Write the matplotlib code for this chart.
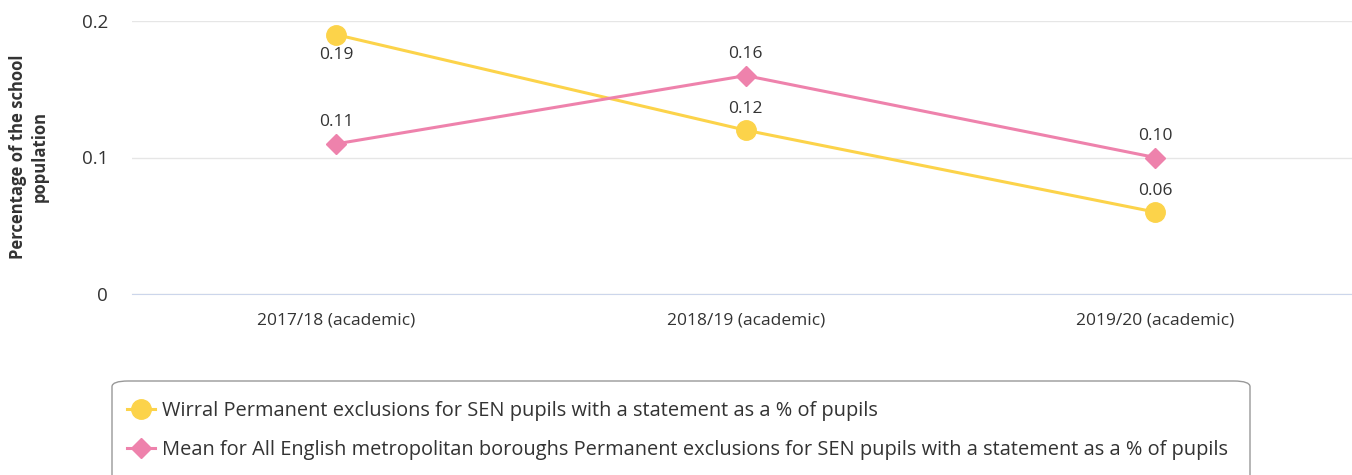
import matplotlib.pyplot as plt
from matplotlib.patches import FancyBboxPatch
from matplotlib.lines import Line2D

plt.rcParams['font.family'] = ['Open Sans', 'DejaVu Sans']

years = ["2017/18 (academic)", "2018/19 (academic)", "2019/20 (academic)"]
wirral = [0.19, 0.12, 0.06]
mean_met = [0.11, 0.16, 0.10]
wirral_name = "Wirral Permanent exclusions for SEN pupils with a statement as a % of pupils"
mean_name = "Mean for All English metropolitan boroughs Permanent exclusions for SEN pupils with a statement as a % of pupils"

yellow = "#fcd34a"
pink = "#ee82ac"
text_col = "#333333"

W, H = 1352, 475
fig = plt.figure(figsize=(W / 100, H / 100), dpi=100)
ax = fig.add_axes([131.5 / W, 1 - 294 / H, 1228.5 / W, 273 / H])

x = list(range(len(years)))
ax.plot(x, wirral, color=yellow, lw=2.2, marker='o', ms=14, zorder=3)
ax.plot(x, mean_met, color=pink, lw=2.2, marker='D', ms=10, zorder=3)

# data labels, the first Wirral one sits below its point
for i, v in enumerate(wirral):
    dy = -14.5 if i == 0 else 15.5
    ax.annotate(f"{v:.2f}", (i, v), xytext=(0, dy), textcoords='offset points',
                ha='center', va='center', fontsize=12.5, color=text_col)
for i, v in enumerate(mean_met):
    ax.annotate(f"{v:.2f}", (i, v), xytext=(0, 15.5), textcoords='offset points',
                ha='center', va='center', fontsize=12.5, color=text_col)

ax.set_xlim(-0.5, 2.5)
ax.set_ylim(0, 0.2)
ax.set_yticks([0, 0.1, 0.2])
ax.set_yticklabels(["0", "0.1", "0.2"])
ax.set_xticks(x)
ax.set_xticklabels(years)
ax.tick_params(axis='y', length=0, labelsize=13.5, labelcolor=text_col, pad=17)
ax.tick_params(axis='x', length=0, labelsize=12.5, labelcolor=text_col, pad=13)
ax.grid(axis='y', color='#e6e6e6', lw=1)
ax.set_axisbelow(True)
for s in ['top', 'right', 'left']:
    ax.spines[s].set_visible(False)
ax.spines['bottom'].set_color('#ccd6eb')
ax.spines['bottom'].set_zorder(1)

fig.text(29 / W, 1 - 157 / H, "Percentage of the school\npopulation", rotation=90,
         ha='center', va='center', fontsize=12, fontweight='bold', color=text_col,
         multialignment='center', linespacing=1.3)

# legend box
box = FancyBboxPatch((112 / W, -0.05), 1138 / W, 1 - 381 / H + 0.05,
                     boxstyle="round,pad=0,rounding_size=0.012",
                     transform=fig.transFigure, fc='white', ec='#999999', lw=1)
fig.add_artist(box)
handles = [Line2D([], [], color=yellow, lw=2.2, marker='o', ms=14),
           Line2D([], [], color=pink, lw=2.2, marker='D', ms=10)]
fig.legend(handles, [wirral_name, mean_name], loc='upper left',
           bbox_to_anchor=(127 / W, 1 - 401 / H), frameon=False,
           fontsize=14.4, labelcolor=text_col, handlelength=1.4, handletextpad=0.35,
           labelspacing=0.95, borderaxespad=0, borderpad=0)

fig.savefig("out.png", dpi=100)
